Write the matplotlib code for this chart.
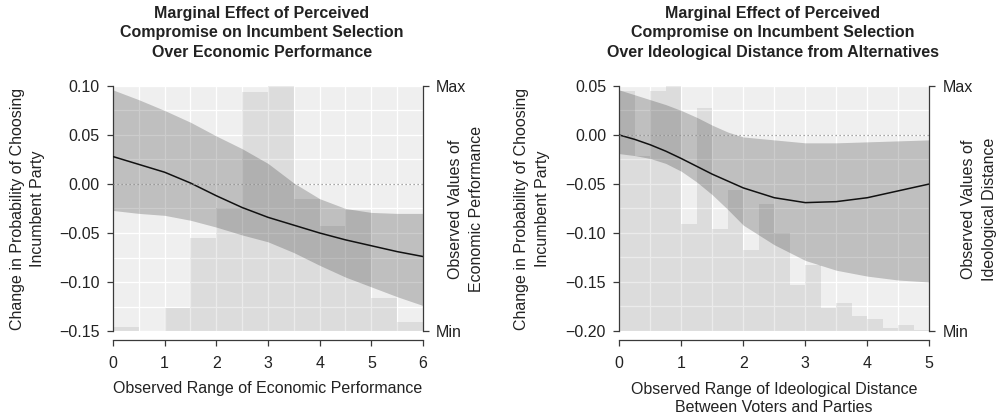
import matplotlib
matplotlib.use('Agg')
import matplotlib.pyplot as plt
from matplotlib.ticker import MultipleLocator

plt.rcParams['font.family'] = ['Liberation Sans', 'DejaVu Sans']

# ---------------- data: left panel (economic performance) ----------------
econ_x = [0, 0.5, 1, 1.5, 2, 2.5, 3, 3.5, 4, 4.5, 5, 5.5, 6]
econ_mean = [0.028, 0.020, 0.012, 0.001, -0.012, -0.024, -0.034, -0.042,
             -0.050, -0.057, -0.063, -0.069, -0.074]
econ_upper = [0.096, 0.086, 0.075, 0.063, 0.049, 0.036, 0.021, 0.001,
              -0.015, -0.025, -0.029, -0.030, -0.030]
econ_lower = [-0.027, -0.030, -0.032, -0.037, -0.044, -0.052, -0.059, -0.070,
              -0.083, -0.095, -0.105, -0.115, -0.124]
econ_bins = [0, 0.5, 1, 1.5, 2, 2.5, 3, 3.5, 4, 4.5, 5, 5.5]
econ_hist = [0.015, 0.0, 0.095, 0.378, 0.503, 0.977, 1.0, 0.54, 0.43, 0.494,
             0.133, 0.038]

# ---------------- data: right panel (ideological distance) ----------------
ideo_x = [0, 0.25, 0.5, 0.75, 1, 1.25, 1.5, 1.75, 2, 2.5, 3, 3.5, 4, 4.5, 5]
ideo_mean = [0.0, -0.0045, -0.010, -0.0165, -0.024, -0.032, -0.040, -0.047,
             -0.054, -0.064, -0.069, -0.068, -0.064, -0.057, -0.050]
ideo_upper = [0.046, 0.041, 0.036, 0.031, 0.025, 0.018, 0.010, 0.003,
              -0.002, -0.005, -0.008, -0.008, -0.007, -0.006, -0.005]
ideo_lower = [-0.019, -0.021, -0.024, -0.029, -0.037, -0.048, -0.061, -0.076,
              -0.092, -0.112, -0.128, -0.138, -0.144, -0.148, -0.150]
ideo_bins = [0, 0.25, 0.5, 0.75, 1, 1.25, 1.5, 1.75, 2, 2.25, 2.5, 2.75, 3,
             3.25, 3.5, 3.75, 4, 4.25, 4.5, 4.75]
ideo_hist = [0.98, 0.714, 0.98, 1.0, 0.435, 0.91, 0.415, 0.575, 0.33, 0.517,
             0.40, 0.187, 0.268, 0.092, 0.116, 0.063, 0.049, 0.011, 0.024,
             0.004]

left_title = "Marginal Effect of Perceived\nCompromise on Incumbent Selection\nOver Economic Performance"
right_title = "Marginal Effect of Perceived\nCompromise on Incumbent Selection\nOver Ideological Distance from Alternatives"
ylab = "Change in Probability of Choosing\nIncumbent Party"
left_xlab = "Observed Range of Economic Performance"
right_xlab = "Observed Range of Ideological Distance\nBetween Voters and Parties"
left_rlab = "Observed Values of\nEconomic Performance"
right_rlab = "Observed Values of\nIdeological Distance"

W, H = 1004, 419
fig = plt.figure(figsize=(W / 100, H / 100), dpi=100)

TXT = '#222222'
SP = '#3a3a3a'
FS = 11.5


def fx(px):
    return px / W


def fy(py):
    return 1 - py / H


def panel(left_px, right_px, x, mean, lo, hi, bins, hist, bw, xlim, ylim,
          yticks, ytl):
    top_px, bot_px = 86, 331
    ax = fig.add_axes([fx(left_px), fy(bot_px), (right_px - left_px) / W,
                       (bot_px - top_px) / H])
    ax.set_facecolor('#efefef')
    ax.set_xlim(xlim)
    ax.set_ylim(ylim)
    ax.xaxis.set_major_locator(MultipleLocator(1))
    ax.xaxis.set_minor_locator(MultipleLocator(0.5))
    ax.set_yticks(yticks)
    ax.set_yticklabels(ytl)
    ax.yaxis.set_minor_locator(MultipleLocator(0.025))
    ax.grid(True, which='both', color='white', lw=0.9)
    ax.set_axisbelow(True)
    ax.tick_params(which='minor', length=0)
    ax.tick_params(which='major', length=4.5, width=0.9, color=SP,
                   labelsize=FS, labelcolor=TXT, pad=5)
    ax.tick_params(axis='x', pad=7)

    ax.bar(bins, hist, width=bw, align='edge', color='black', alpha=0.08,
           lw=0, zorder=1, transform=ax.get_xaxis_transform())
    ax.fill_between(x, lo, hi, color='black', alpha=0.2, lw=0, zorder=2)
    ax.plot(x, mean, color='#111111', lw=1.1, zorder=3)
    ax.axhline(0, color='#8a8a8a', lw=0.9, ls=(0, (1, 2.2)), zorder=4)
    ax.set_xlim(xlim)
    ax.set_ylim(ylim)

    for s in ('top', 'right'):
        ax.spines[s].set_visible(False)
    ax.spines['bottom'].set_position(('outward', 6.5))
    ax.spines['bottom'].set_bounds(*xlim)
    for s in ('bottom', 'left'):
        ax.spines[s].set_color(SP)
        ax.spines[s].set_linewidth(0.9)

    ax2 = ax.twinx()
    ax2.set_ylim(0, 1)
    ax2.set_yticks([0, 1])
    ax2.set_yticklabels(['Min', 'Max'])
    ax2.tick_params(length=4.5, width=0.9, color=SP, labelsize=FS,
                    labelcolor=TXT, pad=5)
    for s in ('top', 'left', 'bottom'):
        ax2.spines[s].set_visible(False)
    ax2.spines['right'].set_color(SP)
    ax2.spines['right'].set_linewidth(0.9)
    return ax


panel(113, 423, econ_x, econ_mean, econ_lower, econ_upper, econ_bins,
      econ_hist, 0.5, (0, 6), (-0.15, 0.10),
      [-0.15, -0.10, -0.05, 0.00, 0.05, 0.10],
      ['\u22120.15', '\u22120.10', '\u22120.05', '0.00', '0.05', '0.10'])
panel(619.3, 929.3, ideo_x, ideo_mean, ideo_lower, ideo_upper, ideo_bins,
      ideo_hist, 0.25, (0, 5), (-0.20, 0.05),
      [-0.20, -0.15, -0.10, -0.05, 0.00, 0.05],
      ['\u22120.20', '\u22120.15', '\u22120.10', '\u22120.05', '0.00', '0.05'])

# titles
for cx, t in ((262, left_title), (773, right_title)):
    fig.text(fx(cx), fy(33), t, ha='center', va='center', fontsize=FS,
             fontweight='bold', color=TXT, linespacing=1.38)

# y labels
for cx, t in ((27.5, ylab), (532, ylab), (466, left_rlab), (979, right_rlab)):
    fig.text(fx(cx), fy(209), t, ha='center', va='center', rotation=90,
             fontsize=FS, color=TXT, linespacing=1.45, rotation_mode='anchor')

# x labels
fig.text(fx(268), fy(388), left_xlab, ha='center', va='center', fontsize=FS,
         color=TXT)
fig.text(fx(774), fy(398.5), right_xlab, ha='center', va='center',
         fontsize=FS, color=TXT, linespacing=1.33)

fig.savefig('out.png', dpi=100)
